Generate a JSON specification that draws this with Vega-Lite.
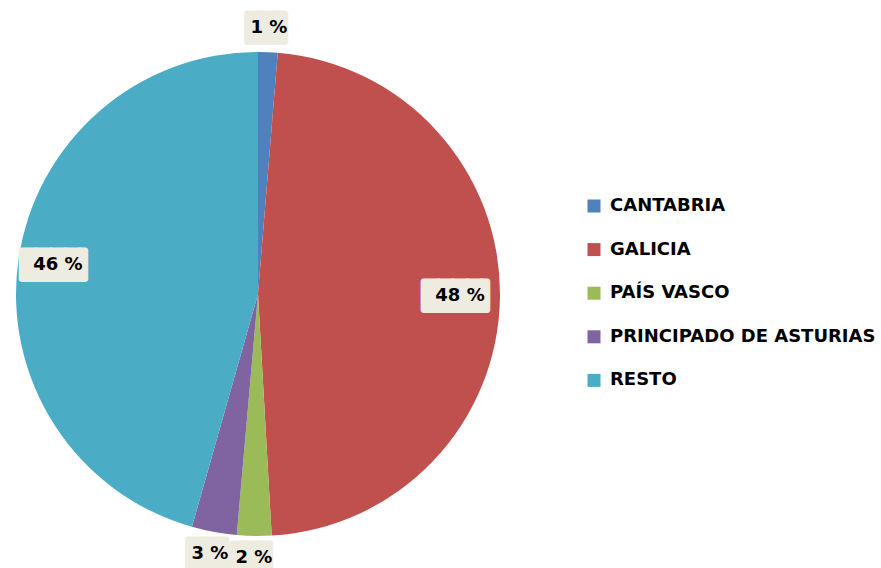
{
  "$schema": "https://vega.github.io/schema/vega-lite/v6.json",
  "autosize": {"type": "none"},
  "padding": {"left": 0, "top": 20, "right": 365, "bottom": 0},
  "width": 516,
  "height": 548,
  "background": "white",
  "config": {"view": {"stroke": null}},
  "data": {
    "values": [
      {"region": "CANTABRIA", "value": 1.3, "label": "1 %", "ord": 1},
      {"region": "GALICIA", "value": 47.8, "label": "48 %", "ord": 2},
      {"region": "PAÍS VASCO", "value": 2.3, "label": "2 %", "ord": 3},
      {"region": "PRINCIPADO DE ASTURIAS", "value": 3.0, "label": "3 %", "ord": 4},
      {"region": "RESTO", "value": 45.6, "label": "46 %", "ord": 5}
    ]
  },
  "encoding": {
    "theta": {"field": "value", "type": "quantitative", "stack": true},
    "order": {"field": "ord", "type": "quantitative"}
  },
  "layer": [
    {
      "mark": {"type": "arc", "radius": 242},
      "encoding": {
        "color": {
          "field": "region",
          "type": "nominal",
          "scale": {
            "domain": ["CANTABRIA", "GALICIA", "PAÍS VASCO", "PRINCIPADO DE ASTURIAS", "RESTO"],
            "range": ["#4F81BD", "#C0504D", "#9BBB59", "#8064A2", "#4BACC6"]
          },
          "legend": {
            "title": null,
            "orient": "none",
            "legendX": 585,
            "legendY": 177,
            "symbolType": "square",
            "symbolSize": 169,
            "symbolStrokeWidth": 0,
            "labelFont": "DejaVu Sans",
            "labelFontWeight": "bold",
            "labelFontSize": 18,
            "labelColor": "#000000",
            "labelOffset": 7,
            "rowPadding": 25.6,
            "labelLimit": 400
          }
        }
      }
    },
    {
      "mark": {
        "type": "text",
        "font": "DejaVu Sans Mono",
        "fontSize": 24,
        "fill": "#EEECE1",
        "stroke": "#EEECE1",
        "strokeWidth": 6,
        "strokeJoin": "round",
        "align": "center",
        "baseline": "middle"
      },
      "encoding": {
        "radius": {"field": "value", "type": "quantitative", "scale": {"type": "linear", "zero": false, "clamp": true, "domain": [3.0, 45.6], "range": [265, 202]}},
        "text": {"condition": {"test": "datum.value > 10", "value": "████▍"}, "value": "██▋"}
      }
    },
    {
      "mark": {
        "type": "text",
        "font": "DejaVu Sans",
        "fontWeight": "bold",
        "fontSize": 18,
        "color": "#000000",
        "align": "center",
        "baseline": "middle",
        "dy": -1
      },
      "encoding": {
        "radius": {"field": "value", "type": "quantitative", "scale": {"type": "linear", "zero": false, "clamp": true, "domain": [3.0, 45.6], "range": [265, 202]}},
        "text": {"field": "label", "type": "nominal"}
      }
    }
  ]
}
